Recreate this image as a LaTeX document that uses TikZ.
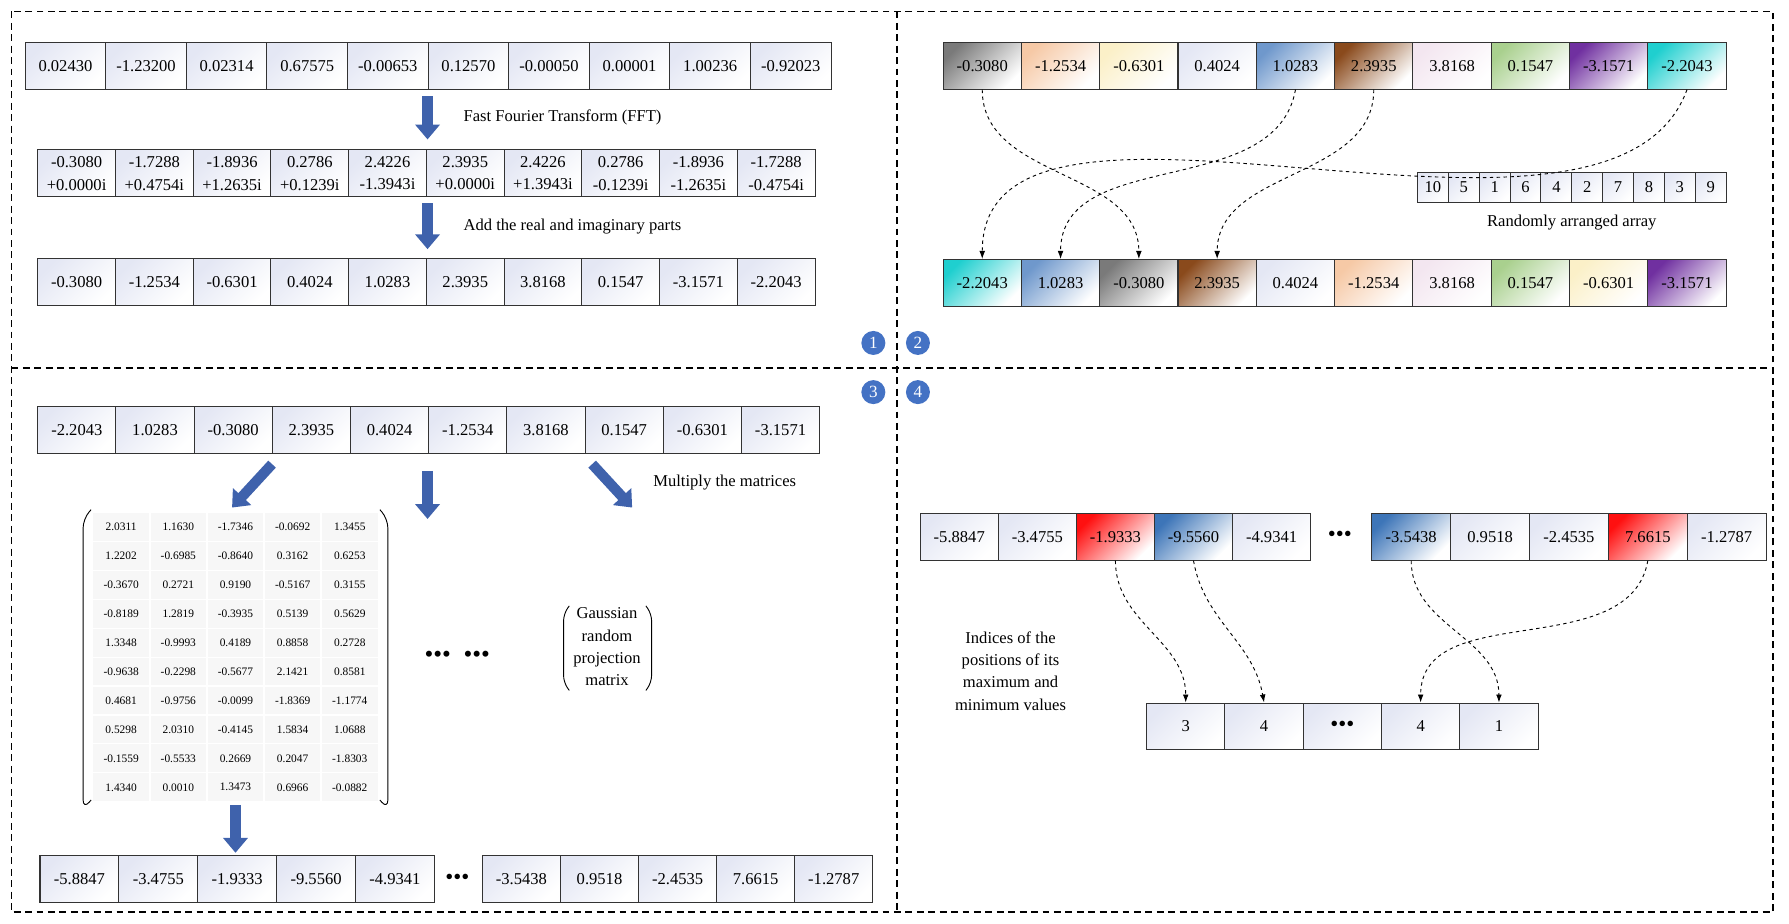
\documentclass[tikz,border=0pt]{standalone}
\usepackage{fontspec}
\setmainfont{Liberation Serif}
\usetikzlibrary{arrows.meta}
\definecolor{ablue}{HTML}{3F62AC}
\definecolor{cblue}{HTML}{4472C4}
\definecolor{plain}{HTML}{E4E7F4}
\definecolor{cgray}{HTML}{7A7A7A}
\definecolor{cpeach}{HTML}{F6C9A6}
\definecolor{ccream}{HTML}{FBF0C8}
\definecolor{cbl}{HTML}{6F98CC}
\definecolor{cbrown}{HTML}{8A4A1C}
\definecolor{cpink}{HTML}{F3E6F0}
\definecolor{cgreen}{HTML}{A9D08E}
\definecolor{cpurple}{HTML}{7030A0}
\definecolor{ccyan}{HTML}{1FCFCF}
\definecolor{cred}{HTML}{FF1010}
\definecolor{cdblue}{HTML}{3D75B8}
\begin{document}
\begin{tikzpicture}[x=1pt,y=-1pt,
  cell/.style={draw=black!80,line width=0.9pt,shading=axis,top color=#1,bottom color=white,shading angle=45,
    minimum height=41pt,inner sep=0pt,font=\fontsize{14.5}{16}\selectfont},
  cell/.default=plain,
  mcell/.style={draw=white,line width=1pt,fill=black!3,minimum width=49.6pt,minimum height=25.3pt,inner sep=0pt,font=\fontsize{10}{11}\selectfont},
  barrow/.style={draw=ablue,line width=9pt,-{Triangle[width=21pt,length=13pt]}},
  darrow/.style={dashed,line width=0.8pt,-{Latex[length=7pt,width=5pt]}},
  badge/.style={circle,fill=cblue,text=white,minimum size=21pt,inner sep=0pt,font=\fontsize{15}{16}\selectfont},
  lbl/.style={font=\fontsize{14.5}{17}\selectfont}]
\useasboundingbox (0,0) rectangle (1565,808);
\draw[dashed,line width=1.6pt,dash pattern=on 6pt off 4pt] (10,10) rectangle (1551,798) (785,10)--(785,798) (10,322)--(1551,322);
% Quadrant 1
\foreach \v [count=\i] in {0.02430,-1.23200,0.02314,0.67575,-0.00653,0.12570,-0.00050,0.00001,1.00236,-0.92023}
  \node[cell,minimum width=70.5pt] (a\i) at ({22+(\i-0.5)*70.5},58) {\v};
\foreach \v/\w [count=\i] in {-0.3080/+0.0000i,-1.7288/+0.4754i,-1.8936/+1.2635i,0.2786/+0.1239i,2.4226/-1.3943i,2.3935/+0.0000i,2.4226/+1.3943i,0.2786/-0.1239i,-1.8936/-1.2635i,-1.7288/-0.4754i}
  \node[cell,minimum width=68pt,align=center,font=\fontsize{14.5}{20}\selectfont] (b\i) at ({33+(\i-0.5)*68},151.5) {\v\\\w};
\foreach \v [count=\i] in {-0.3080,-1.2534,-0.6301,0.4024,1.0283,2.3935,3.8168,0.1547,-3.1571,-2.2043}
  \node[cell,minimum width=68pt] (c\i) at ({33+(\i-0.5)*68},247) {\v};
\coordinate (f1) at (374,84); \coordinate (f2) at (374,122);
\draw[barrow] (f1)--(f2);
\node[lbl,anchor=west] (t1) at (402,103) {Fast Fourier Transform (FFT)};
\coordinate (g1) at (374,178); \coordinate (g2) at (374,218);
\draw[barrow] (g1)--(g2);
\node[lbl,anchor=west] (t2) at (402,198) {Add the real and imaginary parts};
% Quadrant 2
\foreach \v/\c [count=\i] in {-0.3080/cgray,-1.2534/cpeach,-0.6301/ccream,0.4024/plain,1.0283/cbl,2.3935/cbrown,3.8168/cpink,0.1547/cgreen,-3.1571/cpurple,-2.2043/ccyan}
  \node[cell=\c,minimum width=68.5pt] (d\i) at ({825+(\i-0.5)*68.5},57.5) {\v};
\foreach \v [count=\i] in {10,5,1,6,4,2,7,8,3,9}
  \node[cell,minimum width=27pt,minimum height=26pt] (p\i) at ({1240+(\i-0.5)*27},164) {\v};
\node[lbl] (t3) at (1375,195) {Randomly arranged array};
\foreach \v/\c [count=\i] in {-2.2043/ccyan,1.0283/cbl,-0.3080/cgray,2.3935/cbrown,0.4024/plain,-1.2534/cpeach,3.8168/cpink,0.1547/cgreen,-0.6301/ccream,-3.1571/cpurple}
  \node[cell=\c,minimum width=68.5pt] (e\i) at ({825+(\i-0.5)*68.5},247.5) {\v};
\draw[darrow] (d1.south) to[out=-90,in=90] (e3.north);
\draw[darrow] (d5.south) to[out=-100,in=90] (e2.north);
\draw[darrow] (d6.south) to[out=-90,in=90] (e4.north);
\draw[darrow] (d10.south) to[out=-110,in=90,looseness=0.8] (e1.north);
\node[badge] (n1) at (764,300) {1};
\node[badge] (n2) at (803,300) {2};
\node[badge] (n3) at (764,343) {3};
\node[badge] (n4) at (803,343) {4};
% Quadrant 3
\foreach \v [count=\i] in {-2.2043,1.0283,-0.3080,2.3935,0.4024,-1.2534,3.8168,0.1547,-0.6301,-3.1571}
  \node[cell,minimum width=68.4pt] (h\i) at ({33+(\i-0.5)*68.4},376) {\v};
\coordinate (k1) at (238,406); \coordinate (k2) at (203,444);
\draw[barrow] (k1)--(k2);
\coordinate (k3) at (374,412); \coordinate (k4) at (374,454);
\draw[barrow] (k3)--(k4);
\coordinate (k5) at (518,406); \coordinate (k6) at (553,444);
\draw[barrow] (k5)--(k6);
\node[lbl,anchor=west] (t4) at (568,422) {Multiply the matrices};
\foreach \r [count=\j] in {
 {2.0311,1.1630,-1.7346,-0.0692,1.3455},
 {1.2202,-0.6985,-0.8640,0.3162,0.6253},
 {-0.3670,0.2721,0.9190,-0.5167,0.3155},
 {-0.8189,1.2819,-0.3935,0.5139,0.5629},
 {1.3348,-0.9993,0.4189,0.8858,0.2728},
 {-0.9638,-0.2298,-0.5677,2.1421,0.8581},
 {0.4681,-0.9756,-0.0099,-1.8369,-1.1774},
 {0.5298,2.0310,-0.4145,1.5834,1.0688},
 {-0.1559,-0.5533,0.2669,0.2047,-1.8303},
 {1.4340,0.0010,1.3473,0.6966,-0.0882}}
 \foreach \v [count=\i] in \r
  \node[mcell] (m\j-\i) at ({106+(\i-1)*50},{461+(\j-1)*25.3}) {\v};
\draw[line width=0.8pt,rounded corners=8pt] (m1-1.north west)++(-1,-2) coordinate (pl1) -- ++(-7,8) -- ([xshift=-8pt,yshift=-6pt]m10-1.south west) -- ([xshift=-1pt,yshift=2pt]m10-1.south west);
\draw[line width=0.8pt,rounded corners=8pt] (m1-5.north east)++(1,-2) coordinate (pr1) -- ++(7,8) -- ([xshift=8pt,yshift=-6pt]m10-5.south east) -- ([xshift=1pt,yshift=2pt]m10-5.south east);
\node[font=\fontsize{22}{22}\selectfont] (dots1) at (400,575) {\textbullet\textbullet\textbullet\ \ \textbullet\textbullet\textbullet};
\node[lbl,align=center,font=\fontsize{14.5}{19.5}\selectfont] (gauss) at (531,566) {Gaussian\\random\\projection\\matrix};
\draw[line width=0.8pt,rounded corners=6pt] (498,530)--(493,537)--(493,597)--(498,604);
\draw[line width=0.8pt,rounded corners=6pt] (565,530)--(570,537)--(570,597)--(565,604);
\coordinate (k7) at (206,704); \coordinate (k8) at (206,746);
\draw[barrow] (k7)--(k8);
\foreach \v [count=\i] in {-5.8847,-3.4755,-1.9333,-9.5560,-4.9341}
  \node[cell,minimum width=69pt] (q\i) at ({35+(\i-0.5)*69},769) {\v};
\node[font=\fontsize{20}{20}\selectfont] (dots2) at (400,769) {\textbullet\textbullet\textbullet};
\foreach \v [count=\i] in {-3.5438,0.9518,-2.4535,7.6615,-1.2787}
  \node[cell,minimum width=68.3pt] (s\i) at ({422+(\i-0.5)*68.3},769) {\v};
% Quadrant 4
\foreach \v/\c [count=\i] in {-5.8847/plain,-3.4755/plain,-1.9333/cred,-9.5560/cdblue,-4.9341/plain}
  \node[cell=\c,minimum width=68.3pt] (u\i) at ({805+(\i-0.5)*68.3},469.5) {\v};
\node[font=\fontsize{20}{20}\selectfont] (dots3) at (1172,469.5) {\textbullet\textbullet\textbullet};
\foreach \v/\c [count=\i] in {-3.5438/cdblue,0.9518/plain,-2.4535/plain,7.6615/cred,-1.2787/plain}
  \node[cell=\c,minimum width=69pt] (v\i) at ({1200+(\i-0.5)*69},469.5) {\v};
\foreach \v [count=\i] in {3,4,{\fontsize{20}{20}\selectfont\textbullet\textbullet\textbullet},4,1}
  \node[cell,minimum width=68.5pt] (w\i) at ({1003+(\i-0.5)*68.5},635.5) {\v};
\node[lbl,align=center,font=\fontsize{14.5}{19.5}\selectfont] (t5) at (884,587) {Indices of the\\positions of its\\maximum and\\minimum values};
\draw[darrow] (u3.south) to[out=-90,in=90] (w1.north);
\draw[darrow] (u4.south) to[out=-80,in=100] (w2.north);
\draw[darrow] (v1.south) to[out=-90,in=90] (w5.north);
\draw[darrow] (v4.south) to[out=-100,in=90] (w4.north);
\end{tikzpicture}
\end{document}
